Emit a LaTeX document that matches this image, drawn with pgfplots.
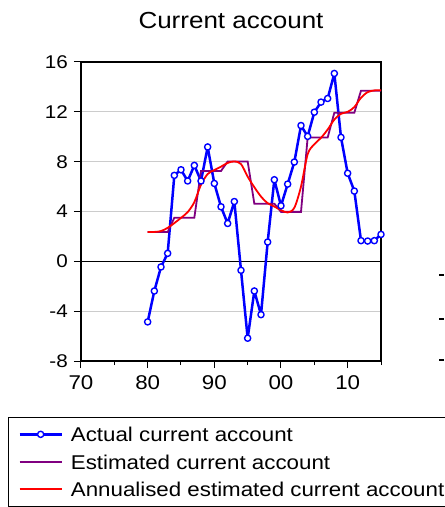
\documentclass[border=0pt]{standalone}
\usepackage{fontspec}
\setmainfont{Liberation Sans}[FakeStretch=1.12]
\usepackage{pgfplots}
\pgfplotsset{compat=1.18}
\definecolor{cablue}{RGB}{0,0,255}
\definecolor{capurple}{RGB}{128,0,128}
\definecolor{cared}{RGB}{255,0,0}
\begin{document}
\begin{tikzpicture}
\useasboundingbox (-81bp,-146bp) rectangle (364bp,361bp);
\begin{axis}[
  at={(0,0)}, anchor=south west,
  width=300bp, height=299bp, scale only axis,
  xmin=1970, xmax=2015, ymin=-8, ymax=16,
  xtick={1970,1980,1990,2000,2010},
  xticklabels={70,80,90,00,10},
  minor xtick={1975,1985,1995,2005,2015},
  ytick={-8,-4,0,4,8,12,16},
  tick pos=left, tick align=outside,
  major tick length=7bp, minor tick length=4bp,
  every tick/.style={black, line width=1bp},
  axis line style={black, line width=1.5bp},
  ymajorgrids, major grid style={gray!40, line width=0.8bp},
  /pgf/number format/assume math mode=true,
  yticklabel style={font=\fontsize{18.5}{20}\selectfont, inner sep=0pt, xshift=-6bp},
  xticklabel style={font=\fontsize{20}{22}\selectfont, inner sep=0pt, yshift=-7bp},
  legend style={draw=black, line width=0.8bp, fill=white,
    at={(-0.2433,-0.1863)}, anchor=north west,
    inner xsep=10bp, inner ysep=10bp, row sep=13bp, column sep=8bp,
    font=\fontsize{20}{24}\selectfont,
    nodes={inner sep=0pt, text height=14.5bp, text depth=0bp}},
  legend cell align=left,
  legend image code/.code={\draw[#1, mark repeat=2, mark phase=2] plot coordinates {(0bp,0bp) (21bp,0bp) (42bp,0bp)};},
]
\addplot[black, line width=0.9bp, forget plot] coordinates {(1970,0) (2015,0)};
\addplot[cablue, line width=2.5bp, line join=round, mark=*, mark size=3.1bp,
  mark options={fill=white, draw=cablue, line width=1.4bp, solid}] coordinates {
(1980,-4.86) (1981,-2.38) (1982,-0.45) (1983,0.64) (1984,6.9) (1985,7.35)
(1986,6.45) (1987,7.7) (1988,6.45) (1989,9.18) (1990,6.25) (1991,4.38)
(1992,3.04) (1993,4.8) (1994,-0.72) (1995,-6.17) (1996,-2.38) (1997,-4.28)
(1998,1.55) (1999,6.55) (2000,4.46) (2001,6.2) (2002,7.97) (2003,10.9)
(2004,10.03) (2005,11.97) (2006,12.78) (2007,13.07) (2008,15.08) (2009,9.95)
(2010,7.07) (2011,5.64) (2012,1.66) (2013,1.63) (2014,1.66) (2015,2.16)};
\addlegendentry{Actual current account}
\addplot[capurple, line width=1.8bp] coordinates {
(1980,2.35) (1981,2.35) (1982,2.35) (1983,2.35)
(1984,3.5) (1985,3.5) (1986,3.5) (1987,3.5)
(1988,7.25) (1989,7.25) (1990,7.25) (1991,7.25)
(1992,8.02) (1993,8.02) (1994,8.02) (1995,8.02)
(1996,4.63) (1997,4.63) (1998,4.63) (1999,4.63)
(2000,3.97) (2001,3.97) (2002,3.97) (2003,3.97)
(2004,9.94) (2005,9.94) (2006,9.94) (2007,9.94)
(2008,11.93) (2009,11.93) (2010,11.93) (2011,11.93)
(2012,13.7) (2013,13.7) (2014,13.7) (2015,13.7)};
\addlegendentry{Estimated current account}
\addplot[cared, line width=1.8bp, smooth] coordinates {
(1980,2.35) (1981,2.36) (1982,2.43) (1983,2.69) (1984,3.07) (1985,3.49)
(1986,3.95) (1987,4.75) (1988,6.15) (1989,7.01) (1990,7.33) (1991,7.6)
(1992,7.9) (1993,8.02) (1994,7.81) (1995,6.8) (1996,5.95) (1997,5.2)
(1998,4.67) (1999,4.4) (2000,4.11) (2001,3.92) (2002,4.3) (2003,6.0)
(2004,8.6) (2005,9.4) (2006,9.91) (2007,10.58) (2008,11.38) (2009,11.84)
(2010,12.0) (2011,12.38) (2012,13.13) (2013,13.58) (2014,13.72) (2015,13.74)};
\addlegendentry{Annualised estimated current account}
\end{axis}
\node[anchor=base, font=\fontsize{23.3}{26}\selectfont, inner sep=0pt] at (150bp,332.7bp) {Current account};
\draw[black, line width=1.5bp] (358bp,86bp) -- (363bp,86bp);
\draw[black, line width=1.5bp] (358bp,42bp) -- (363bp,42bp);
\draw[black, line width=1.5bp] (358bp,1bp) -- (363bp,1bp);
\end{tikzpicture}
\end{document}
